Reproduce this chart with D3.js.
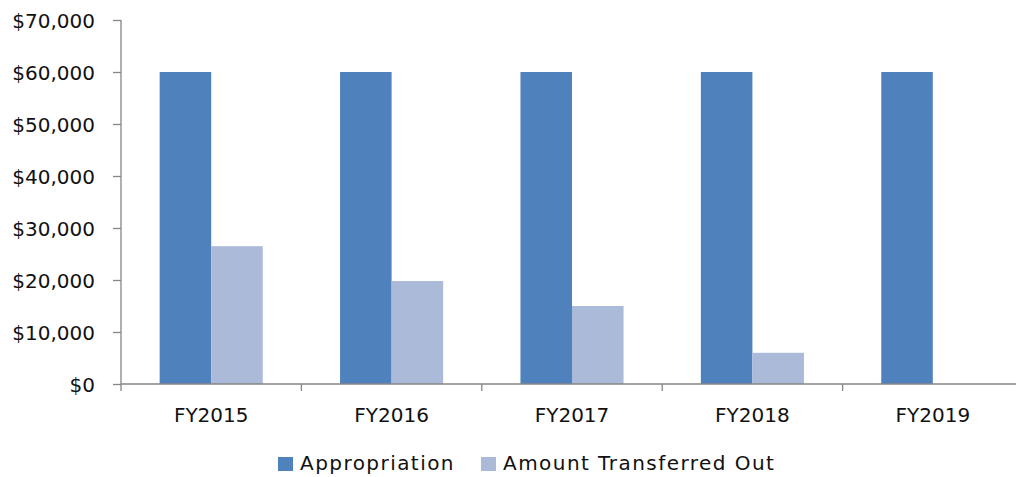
<!DOCTYPE html>
<html>
<head>
<meta charset="utf-8">
<script src="https://cdn.jsdelivr.net/npm/d3@7"></script>
<style>
  html, body { margin: 0; padding: 0; background: #fff; }
  svg { display: block; font-family: "DejaVu Sans", Verdana, sans-serif; }
</style>
</head>
<body>
<svg id="chart" width="1016" height="477"></svg>
<script>
// Fiscal years on the category axis
const categories = ["FY2015", "FY2016", "FY2017", "FY2018", "FY2019"];
// Series names and values (dollars)
const seriesNames = ["Appropriation", "Amount Transferred Out"];
const appropriation = [60000, 60000, 60000, 60000, 60000];
const transferredOut = [26500, 19800, 15000, 6000, 0];
// Value axis ticks
const yTicks = [0, 10000, 20000, 30000, 40000, 50000, 60000, 70000];
const colors = ["#4f81bd", "#aabad8"];

const svg = d3.select("#chart");
const plotLeft = 121, plotRight = 1023, plotTop = 20, plotBottom = 384;

const x0 = d3.scaleBand().domain(categories).range([plotLeft, plotRight]).paddingInner(0).paddingOuter(0);
const x1 = d3.scaleBand().domain(seriesNames).range([0, x0.bandwidth()]).paddingInner(0).paddingOuter(0.75);
const y = d3.scaleLinear().domain([0, 70000]).range([plotBottom, plotTop]);

const rows = categories.map((c, i) => ({ cat: c, vals: [appropriation[i], transferredOut[i]] }));

// Bars
const groups = svg.append("g").selectAll("g").data(rows).join("g")
  .attr("transform", d => `translate(${x0(d.cat)},0)`);
groups.selectAll("rect")
  .data(d => d.vals.map((v, k) => ({ name: seriesNames[k], v, k })))
  .join("rect")
  .attr("x", d => x1(d.name))
  .attr("width", x1.bandwidth())
  .attr("y", d => y(d.v))
  .attr("height", d => plotBottom - y(d.v))
  .attr("fill", d => colors[d.k]);

const axisColor = "#868686";

// Y axis
const fmt = d3.format(",");
const yAxis = svg.append("g").attr("transform", `translate(${plotLeft},0)`)
  .call(d3.axisLeft(y).tickValues(yTicks).tickSize(8).tickPadding(18).tickFormat(d => "$" + fmt(d)));
yAxis.select(".domain").remove();
yAxis.selectAll(".tick line").attr("stroke", axisColor).attr("stroke-width", 1.3);
yAxis.selectAll(".tick text")
  .attr("font-size", 20).attr("fill", "#111")
  .attr("font-family", "DejaVu Sans, Verdana, sans-serif")
  .attr("dy", "0.35em");
svg.append("line").attr("x1", plotLeft).attr("x2", plotLeft).attr("y1", plotTop).attr("y2", plotBottom + 7)
  .attr("stroke", axisColor).attr("stroke-width", 1.3);

// X axis
svg.append("line").attr("x1", plotLeft).attr("x2", plotRight).attr("y1", plotBottom).attr("y2", plotBottom)
  .attr("stroke", axisColor).attr("stroke-width", 1.5);
svg.append("g").selectAll("line").data(categories.slice(1)).join("line")
  .attr("x1", d => x0(d)).attr("x2", d => x0(d))
  .attr("y1", plotBottom).attr("y2", plotBottom + 7)
  .attr("stroke", axisColor).attr("stroke-width", 1.3);
svg.append("g").selectAll("text").data(categories).join("text")
  .attr("x", d => x0(d) + x0.bandwidth() / 2)
  .attr("y", 422)
  .attr("text-anchor", "middle")
  .attr("font-size", 20).attr("fill", "#111")
  .text(d => d);

// Legend
const legendItems = [
  { name: seriesNames[0], color: colors[0], x: 278 },
  { name: seriesNames[1], color: colors[1], x: 481 }
];
const lg = svg.append("g").selectAll("g").data(legendItems).join("g")
  .attr("transform", d => `translate(${d.x},0)`);
lg.append("rect").attr("x", 0).attr("y", 457).attr("width", 15).attr("height", 14)
  .attr("fill", d => d.color);
lg.append("text").attr("x", 22).attr("y", 470)
  .attr("font-size", 20).attr("fill", "#111").attr("letter-spacing", 1.45)
  .text(d => d.name);
</script>
</body>
</html>
